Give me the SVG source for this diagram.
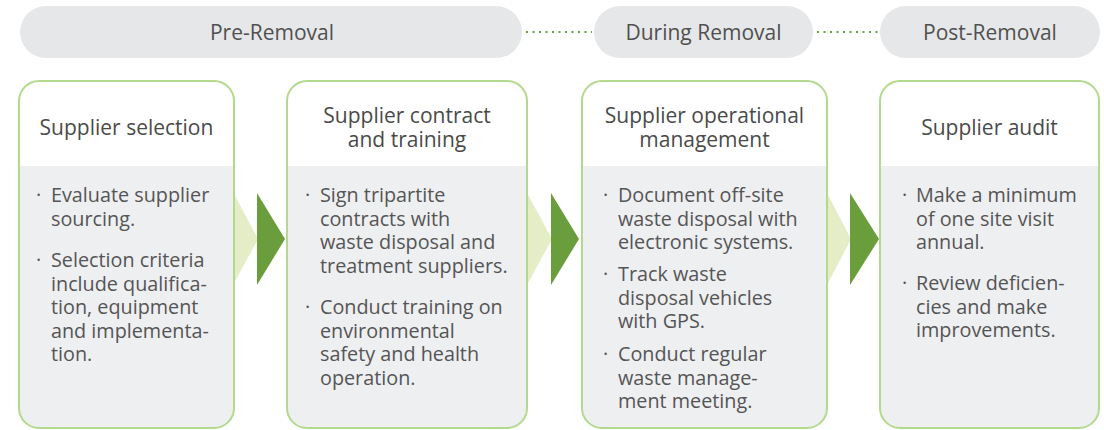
<svg xmlns="http://www.w3.org/2000/svg" width="1104" height="430" viewBox="0 0 1104 430">
<style>
.pill{fill:#e6e7e8}
.pt{font-family:"Open Sans","Noto Sans",sans-serif;font-size:21px;fill:#505050;text-anchor:middle}
.dots{stroke:#6a9e3c;stroke-width:2;stroke-dasharray:2 4.5;fill:none}
.body{fill:#eeeff1}
.head{fill:#ffffff}
.frame{fill:none;stroke:#b3d98c;stroke-width:2}
.ht{font-family:"Open Sans","Noto Sans",sans-serif;font-size:21px;fill:#4a4a4a;text-anchor:middle}
.bt{font-family:"Open Sans","Noto Sans",sans-serif;font-size:19.8px;fill:#555555}
.lt{fill:#e4edc6}
.dk{fill:#6a9e3c}
</style>
<rect width="1104" height="430" fill="#ffffff"/>

<g id="phases">
  <g id="phase-pre">
    <rect class="pill" x="20" y="6" width="502" height="52" rx="26"/>
    <text class="pt" x="272" y="40">Pre-Removal</text>
  </g>
  <g id="phase-during">
    <rect class="pill" x="594" y="6" width="219" height="52" rx="26"/>
    <text class="pt" x="703.5" y="40">During Removal</text>
  </g>
  <g id="phase-post">
    <rect class="pill" x="880" y="6" width="220" height="52" rx="26"/>
    <text class="pt" x="990" y="40">Post-Removal</text>
  </g>
</g>

<g id="connectors">
  <line class="dots" x1="526" y1="32" x2="592" y2="32"/>
  <line class="dots" x1="817" y1="32" x2="878" y2="32"/>
  <polygon class="lt" points="233,192 258,239 233,285"/>
  <polygon class="dk" points="257,193 285,239 257,285"/>
  <polygon class="lt" points="527,193 552,239 527,285"/>
  <polygon class="dk" points="551,193 579,239 551,285"/>
  <polygon class="lt" points="827,193 851,239 827,285"/>
  <polygon class="dk" points="850,193 879,239 850,285"/>
</g>

<g id="card-selection">
  <rect class="body" x="19" y="81" width="215" height="347" rx="20"/>
  <path class="head" d="M19,166 V101 A20,20 0 0 1 39,81 H214 A20,20 0 0 1 234,101 V166 Z"/>
  <rect class="frame" x="19" y="81" width="215" height="347" rx="20"/>
  <text class="ht" x="126.5" y="135">Supplier selection</text>
  <text class="bt" x="36" y="202">·</text>
  <text class="bt" x="51" y="202"><tspan x="51" y="202">Evaluate supplier</tspan><tspan x="51" y="225.5">sourcing.</tspan></text>
  <text class="bt" x="36" y="267">·</text>
  <text class="bt" x="51" y="267"><tspan x="51" y="267">Selection criteria</tspan><tspan x="51" y="290.5">include qualifica-</tspan><tspan x="51" y="314">tion, equipment</tspan><tspan x="51" y="337.5">and implementa-</tspan><tspan x="51" y="361">tion.</tspan></text>
</g>

<g id="card-contract">
  <rect class="body" x="287" y="81" width="240" height="347" rx="20"/>
  <path class="head" d="M287,166 V101 A20,20 0 0 1 307,81 H507 A20,20 0 0 1 527,101 V166 Z"/>
  <rect class="frame" x="287" y="81" width="240" height="347" rx="20"/>
  <text class="ht" x="407" y="123"><tspan x="407" y="123">Supplier contract</tspan><tspan x="407" y="147">and training</tspan></text>
  <text class="bt" x="305" y="202">·</text>
  <text class="bt" x="320" y="202"><tspan x="320" y="202">Sign tripartite</tspan><tspan x="320" y="225.5">contracts with</tspan><tspan x="320" y="249">waste disposal and</tspan><tspan x="320" y="272.5">treatment suppliers.</tspan></text>
  <text class="bt" x="305" y="314">·</text>
  <text class="bt" x="320" y="314"><tspan x="320" y="314">Conduct training on</tspan><tspan x="320" y="337.5">environmental</tspan><tspan x="320" y="361">safety and health</tspan><tspan x="320" y="384.5">operation.</tspan></text>
</g>

<g id="card-operation">
  <rect class="body" x="582" y="81" width="245" height="347" rx="20"/>
  <path class="head" d="M582,166 V101 A20,20 0 0 1 602,81 H807 A20,20 0 0 1 827,101 V166 Z"/>
  <rect class="frame" x="582" y="81" width="245" height="347" rx="20"/>
  <text class="ht" x="704.5" y="123"><tspan x="704.5" y="123">Supplier operational</tspan><tspan x="704.5" y="147">management</tspan></text>
  <text class="bt" x="603" y="202">·</text>
  <text class="bt" x="618" y="202"><tspan x="618" y="202">Document off-site</tspan><tspan x="618" y="225.5">waste disposal with</tspan><tspan x="618" y="249">electronic systems.</tspan></text>
  <text class="bt" x="603" y="281">·</text>
  <text class="bt" x="618" y="281"><tspan x="618" y="281">Track waste</tspan><tspan x="618" y="304.5">disposal vehicles</tspan><tspan x="618" y="328">with GPS.</tspan></text>
  <text class="bt" x="603" y="361">·</text>
  <text class="bt" x="618" y="361"><tspan x="618" y="361">Conduct regular</tspan><tspan x="618" y="384.5">waste manage-</tspan><tspan x="618" y="408">ment meeting.</tspan></text>
</g>

<g id="card-audit">
  <rect class="body" x="880" y="81" width="219" height="347" rx="20"/>
  <path class="head" d="M880,166 V101 A20,20 0 0 1 900,81 H1079 A20,20 0 0 1 1099,101 V166 Z"/>
  <rect class="frame" x="880" y="81" width="219" height="347" rx="20"/>
  <text class="ht" x="989.5" y="135">Supplier audit</text>
  <text class="bt" x="902" y="202">·</text>
  <text class="bt" x="916" y="202"><tspan x="916" y="202">Make a minimum</tspan><tspan x="916" y="225.5">of one site visit</tspan><tspan x="916" y="249">annual.</tspan></text>
  <text class="bt" x="902" y="290">·</text>
  <text class="bt" x="916" y="290"><tspan x="916" y="290">Review deficien-</tspan><tspan x="916" y="313.5">cies and make</tspan><tspan x="916" y="337">improvements.</tspan></text>
</g>
</svg>
